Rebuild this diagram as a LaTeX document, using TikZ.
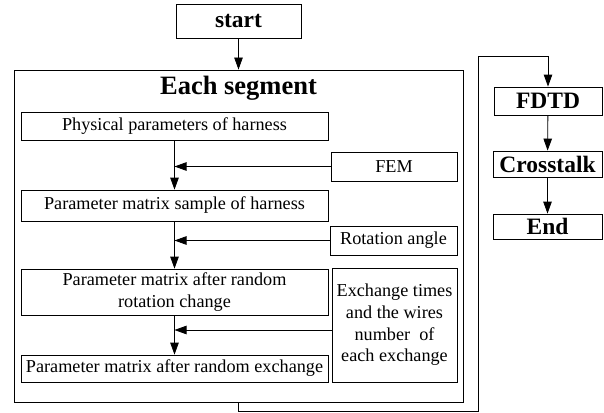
\documentclass[tikz,border=0pt]{standalone}
\usepackage{fontspec}
\setmainfont{Liberation Serif}
\usetikzlibrary{arrows.meta}
\tikzset{
  >={Triangle[length=12pt,width=8.5pt]},
  box/.style={draw,line width=0.8pt,inner sep=0pt,align=center,font=\fontsize{18.2}{21.7}\selectfont},
  bbox/.style={draw,line width=0.8pt,inner sep=0pt,align=center,font=\fontsize{23.5}{26}\selectfont\bfseries},
}
\begin{document}
\begin{tikzpicture}[x=1pt,y=-1pt,line width=0.8pt]
\useasboundingbox (0,0) rectangle (604,412);
\node[bbox,minimum width=125pt,minimum height=34pt](start) at (238.5,21) {start};
%
\node[draw,line width=0.9pt,minimum width=449pt,minimum height=332pt,inner sep=0pt](seg) at (238.5,236) {};
\node[font=\fontsize{26.5}{28}\selectfont\bfseries](segtitle) at (238.5,88) {Each segment};
\draw[->](start) -- (seg) {};
%
\node[box,minimum width=307pt,minimum height=28pt](phys) at (174.5,126) {Physical parameters of harness};
\node[box,minimum width=307pt,minimum height=31pt](sample) at (174.5,205.5) {Parameter matrix sample of harness};
\node[box,minimum width=307pt,minimum height=46pt](rot) at (174.5,292) {Parameter matrix after random\\rotation change};
\node[box,minimum width=307pt,minimum height=27pt](exch) at (174.5,368.5) {Parameter matrix after random exchange};
\draw[->](phys) -- (sample) {};
\draw[->](sample) -- (rot) {};
\draw[->](rot) -- (exch) {};
%
\node[box,minimum width=126pt,minimum height=29pt](fem) at (394,166.5) {FEM};
\node[box,minimum width=127pt,minimum height=29pt](angle) at (393.5,240.5) {Rotation angle};
\node[box,minimum width=125pt,minimum height=114pt](wires) at (394.5,325) {Exchange times\\and the wires\\number~~of\\each exchange};
\coordinate(femin) at (fem.west -| phys.south);
\coordinate(anglein) at (angle.west -| sample.south);
\coordinate(wiresout) at ([yshift=-5pt]wires.west);
\coordinate(wiresin) at (wiresout -| rot.south);
\draw[->](fem.west) -- (femin) {};
\draw[->](angle.west) -- (anglein) {};
\draw[->](wiresout) -- (wiresin) {};
%
\node[bbox,minimum width=108pt,minimum height=28pt](fdtd) at (548,101) {FDTD};
\node[bbox,minimum width=109pt,minimum height=26pt](cross) at (547.5,164) {Crosstalk};
\node[bbox,minimum width=109pt,minimum height=25pt](endb) at (547.5,226.5) {End};
\coordinate(turn1) at (478,411);
\coordinate(turn2) at (478,56);
\draw[->](seg.south) |- (turn1) |- (turn2) -| (fdtd.north) {};
\draw[->](fdtd) -- (cross) {};
\draw[->](cross) -- (endb) {};
\end{tikzpicture}
\end{document}
